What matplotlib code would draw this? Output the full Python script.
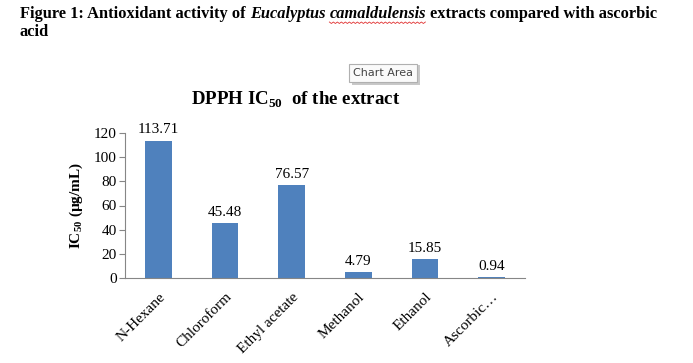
import matplotlib
matplotlib.use('Agg')
import matplotlib.pyplot as plt
from matplotlib.lines import Line2D
from matplotlib.patches import Rectangle
import numpy as np

# --- Data ---
solvents = ['N-Hexane', 'Chloroform', 'Ethyl acetate', 'Methanol', 'Ethanol', 'Ascorbic…']
ic50_values = [113.71, 45.48, 76.57, 4.79, 15.85, 0.94]
y_ticks = [0, 20, 40, 60, 80, 100, 120]

plt.rcParams['font.family'] = ['Liberation Serif', 'DejaVu Serif']
plt.rcParams['mathtext.fontset'] = 'custom'
plt.rcParams['mathtext.rm'] = 'Liberation Serif'
plt.rcParams['mathtext.bf'] = 'Liberation Serif:bold'

W, H = 693, 363
fig = plt.figure(figsize=(W / 100, H / 100), dpi=100)
fig.patch.set_facecolor('white')

# --- Caption (pieces with mixed styles) ---
renderer = fig.canvas.get_renderer()
x_px = 20
pieces = [('Figure 1: Antioxidant activity of ', 'normal', False),
          ('Eucalyptus ', 'italic', False),
          ('camaldulensis', 'italic', True),
          (' extracts compared with ascorbic', 'normal', False)]
for txt, style, squiggle in pieces:
    t = fig.text(x_px / W, 1 - 18 / H, txt, fontsize=11.8, fontweight='bold',
                 fontstyle=style, va='baseline', ha='left')
    bb = t.get_window_extent(renderer)
    if squiggle:
        # red spell-check squiggle under the species name
        xs = np.arange(bb.x0, bb.x1, 2.0)
        ys = (H - 22) + np.where(np.arange(len(xs)) % 2 == 0, 0.0, -1.5)
        fig.add_artist(Line2D(xs / W, ys / H, color='#e03030', lw=0.6,
                              transform=fig.transFigure))
    x_px += bb.width
fig.text(20 / W, 1 - 36 / H, 'acid', fontsize=11.8, fontweight='bold',
         va='baseline', ha='left')

# --- "Chart Area" tooltip ---
fig.add_artist(Rectangle((352 / W, 1 - 85 / H), 68 / W, 20 / H, transform=fig.transFigure,
                         fc='#c8c8c8', ec='none'))
fig.text(383 / W, 1 - 73 / H, 'Chart Area', fontsize=8, family='DejaVu Sans',
         color='#444444', ha='center', va='center',
         bbox=dict(boxstyle='square,pad=0.35', fc='#fafafa', ec='#b0b0b0', lw=0.8))

# --- Chart ---
ax = fig.add_axes([125 / W, 1 - 278 / H, 400 / W, 145 / H])
x = np.arange(len(solvents))
bars = ax.bar(x, ic50_values, width=0.4, color='#4F81BD', zorder=2)

for xi, v in zip(x, ic50_values):
    ax.annotate(f'{v:.2f}', (xi, v), xytext=(0, 3), textcoords='offset points',
                ha='center', va='bottom', fontsize=11)

ax.set_xlim(-0.5, len(solvents) - 0.5)
ax.set_ylim(0, 120)
ax.set_yticks(y_ticks)
ax.tick_params(axis='y', labelsize=11, length=4, color='#868686', pad=2)
ax.tick_params(axis='x', length=0, pad=9)
ax.set_xticks(x)
ax.set_xticklabels(solvents, rotation=45, ha='right', rotation_mode='anchor',
                   fontsize=11)

for side in ['top', 'right']:
    ax.spines[side].set_visible(False)
ax.spines['left'].set_color('#868686')
ax.spines['bottom'].set_color('#868686')

ax.set_ylabel(r'IC$_{\mathbf{50}}$ (µg/mL)', fontsize=11, fontweight='bold', labelpad=6)
fig.text(296 / W, 1 - 100 / H, r'DPPH IC$_{\mathbf{50}}$  of the extract', fontsize=13.6,
         fontweight='bold', ha='center', va='center')

fig.savefig('out.png', dpi=100, facecolor='white')
